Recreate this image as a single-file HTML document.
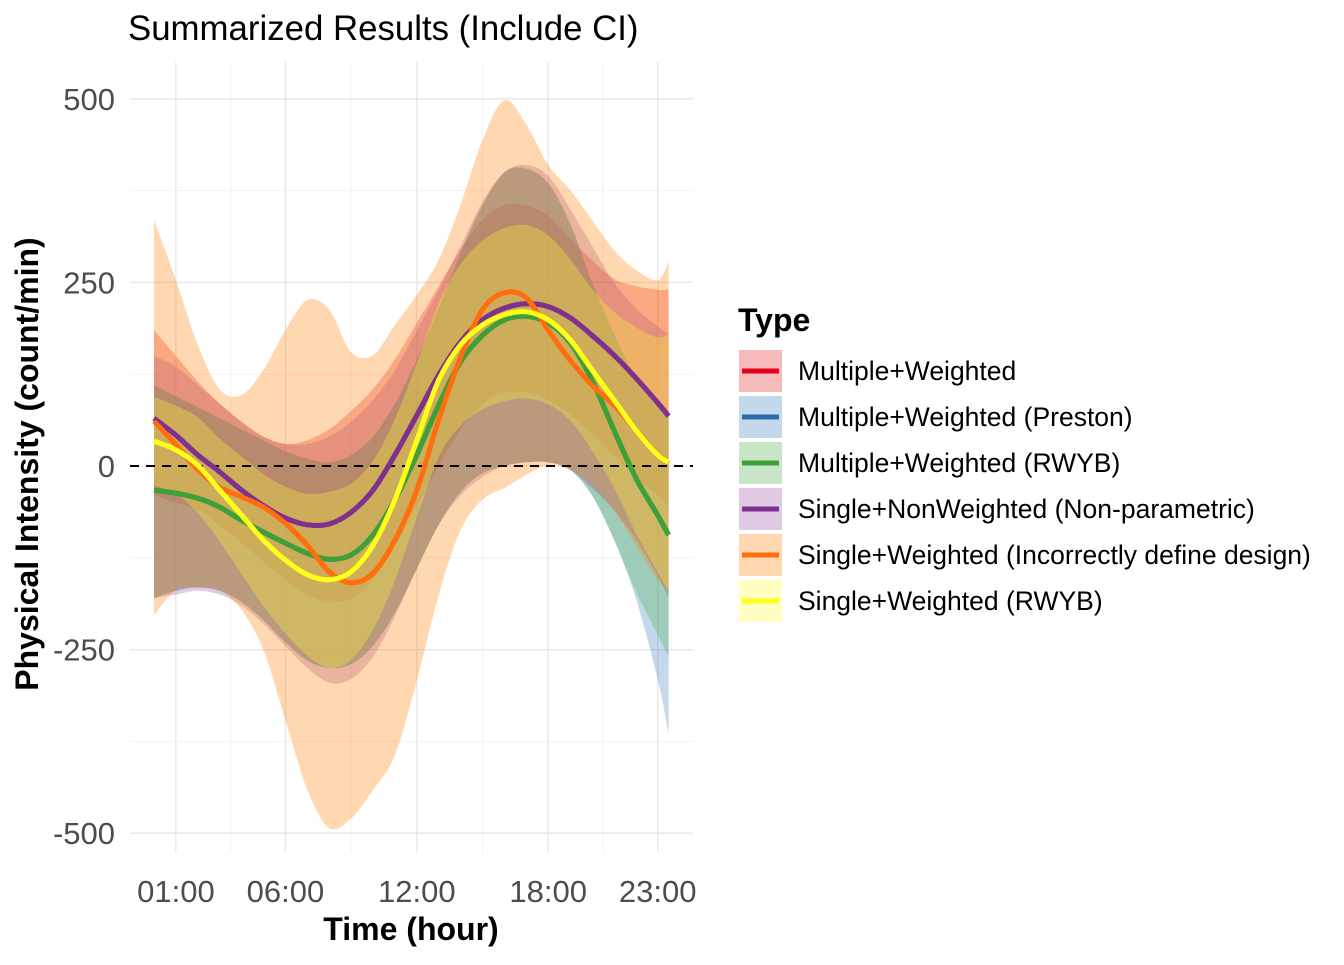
<!DOCTYPE html>
<html><head><meta charset="utf-8"><style>
html,body{margin:0;padding:0;background:#fff;}
svg text{font-family:"Liberation Sans",Arial,sans-serif;}
</style></head><body>
<svg id="chart" width="1344" height="960" xmlns="http://www.w3.org/2000/svg">
<rect x="0" y="0" width="1344" height="960" fill="#fff"/>
<text x="128" y="40" font-size="34.8" fill="#000">Summarized Results (Include CI)</text>
<g id="grid"></g>
<g id="bands"></g>
<line x1="130" x2="693" y1="466" y2="466" stroke="#000" stroke-width="2" stroke-dasharray="9,7" id="zeroline"/>
<g id="lines"></g>
<g id="axes"></g>
<text x="411" y="940" font-size="32" font-weight="bold" text-anchor="middle" fill="#000">Time (hour)</text>
<text transform="translate(38,464) rotate(-90)" font-size="32" font-weight="bold" text-anchor="middle" fill="#000">Physical Intensity (count/min)</text>
<g id="legend">
<text x="738" y="331" font-size="32" font-weight="bold" fill="#000">Type</text>
</g>
</svg>
<script>
const hours=[0,1,2,3,4,5,6,7,8,9,10,11,12,13,14,15,16,17,18,19,20,21,22,23,23.5];
const seriesNames=["Multiple+Weighted","Multiple+Weighted (Preston)","Multiple+Weighted (RWYB)","Single+NonWeighted (Non-parametric)","Single+Weighted (Incorrectly define design)","Single+Weighted (RWYB)"];
const lineColors=["#e4001c","#2c6aab","#3da136","#7d3191","#ff6d0d","#ffff1a"];
const fillColors=["#e41a1c","#377eb8","#4daf4a","#984ea3","#ff7f00","#ffff33"];
const redMean=[65,42,15,-8,-33,-54,-71,-80,-79,-63,-33,15,69,124,169,199,215,221,217,202,178,151,120,86,68];
const redLo=[-40,-50,-60,-80,-105,-130,-155,-175,-185,-180,-155,-110,-55,0,50,85,100,100,90,70,45,15,-15,-40,-55];
const redHi=[185,150,115,85,60,40,30,35,50,75,105,145,195,245,295,335,355,355,340,310,280,255,245,240,240];
const blueMean=[-33,-37,-44,-56,-74,-90,-105,-119,-127,-121,-94,-46,15,83,142,178,199,204,195,168,117,49,-16,-67,-94];
const blueLo=[-180,-170,-165,-170,-185,-210,-240,-265,-275,-270,-245,-200,-140,-80,-35,-10,0,5,5,-5,-40,-100,-180,-290,-365];
const blueHi=[110,95,80,65,50,35,20,10,5,15,40,85,145,215,290,355,400,405,385,330,250,180,120,90,75];
const greenMean=[-33,-37,-44,-56,-74,-90,-105,-119,-127,-121,-94,-46,15,83,142,178,199,204,195,168,117,49,-16,-67,-94];
const greenLo=[-180,-170,-165,-170,-185,-210,-240,-265,-275,-270,-245,-200,-140,-80,-35,-10,0,5,5,-5,-40,-100,-170,-230,-260];
const greenHi=[110,95,80,65,50,35,20,10,5,15,40,85,145,215,290,355,400,405,385,330,250,180,120,90,75];
const purpleMean=[65,42,15,-8,-33,-54,-71,-80,-79,-63,-33,15,69,124,169,199,215,221,217,202,178,151,120,86,68];
const purpleLo=[-180,-175,-170,-175,-190,-215,-245,-275,-295,-290,-260,-205,-140,-80,-40,-15,0,5,5,-5,-30,-60,-100,-150,-180];
const purpleHi=[150,135,110,85,60,40,30,30,40,60,90,130,185,240,300,360,400,410,395,350,300,250,215,190,180];
const orangeMean=[61,29,-5,-29,-42,-56,-78,-108,-144,-159,-146,-101,-33,63,148,213,236,229,185,144,110,83,49,15,4];
const orangeLo=[-203,-169,-166,-169,-196,-251,-346,-441,-493,-480,-441,-394,-292,-176,-87,-46,-30,-12,1,-5,-26,-60,-108,-155,-169];
const orangeHi=[335,253,165,104,97,131,185,226,213,155,151,192,233,281,356,444,498,465,410,376,335,294,267,253,278];
const yellowMean=[34,22,1,-33,-67,-101,-128,-148,-155,-144,-108,-46,35,117,165,192,206,210,199,172,131,90,49,15,5];
const yellowLo=[-26,-38,-64,-103,-147,-191,-228,-258,-275,-264,-223,-156,-70,12,55,77,88,92,84,62,21,-30,-91,-145,-170];
const yellowHi=[94,82,66,37,13,-11,-28,-38,-35,-24,7,64,140,222,275,307,324,328,314,282,241,210,189,175,180];
const yTicks=[500,250,0,-250,-500];
const yTickLabels=["500","250","0","-250","-500"];
const xTicks=[1,6,12,18,23];
const xTickLabels=["01:00","06:00","12:00","18:00","23:00"];

const means=[redMean,blueMean,greenMean,purpleMean,orangeMean,yellowMean];
const los=[redLo,blueLo,greenLo,purpleLo,orangeLo,yellowLo];
const his=[redHi,blueHi,greenHi,purpleHi,orangeHi,yellowHi];

const NS="http://www.w3.org/2000/svg";
function xs(h){return 154+h*21.9;}
function ys(v){return 466-v*183.6/250;}
function mk(tag,attrs,parent){const e=document.createElementNS(NS,tag);for(const k in attrs)e.setAttribute(k,attrs[k]);parent.appendChild(e);return e;}
function smooth(pts){
  let d="M"+pts[0][0].toFixed(1)+","+pts[0][1].toFixed(1);
  for(let i=0;i<pts.length-1;i++){
    const p0=pts[Math.max(0,i-1)],p1=pts[i],p2=pts[i+1],p3=pts[Math.min(pts.length-1,i+2)];
    const c1=[p1[0]+(p2[0]-p0[0])/6,p1[1]+(p2[1]-p0[1])/6];
    const c2=[p2[0]-(p3[0]-p1[0])/6,p2[1]-(p3[1]-p1[1])/6];
    d+="C"+c1[0].toFixed(1)+","+c1[1].toFixed(1)+" "+c2[0].toFixed(1)+","+c2[1].toFixed(1)+" "+p2[0].toFixed(1)+","+p2[1].toFixed(1);
  }
  return d;
}
const grid=document.getElementById('grid');
for(let i=0;i<yTicks.length-1;i++){
  const v=(yTicks[i]+yTicks[i+1])/2;
  const l=mk('line',{x1:130,x2:693,y1:ys(v),y2:ys(v),stroke:'#f2f2f2','stroke-width':1},grid);
  
  
}
for(let i=0;i<xTicks.length-1;i++){
  const h=(xTicks[i]+xTicks[i+1])/2;
  const l=mk('line',{x1:xs(h),x2:xs(h),y1:62,y2:852,stroke:'#f2f2f2','stroke-width':1},grid);
  
  
}
const axes=document.getElementById('axes');
yTicks.forEach((v,i)=>{
  const l=mk('line',{x1:130,x2:693,y1:ys(v),y2:ys(v),stroke:'#e6e6e6','stroke-width':1.3},grid);
  
  
  const t=mk('text',{x:115,y:ys(v)+11,'font-size':31,'text-anchor':'end',fill:'#4d4d4d'},axes);
  t.textContent=yTickLabels[i];
  
  
});
xTicks.forEach((h,i)=>{
  const l=mk('line',{x1:xs(h),x2:xs(h),y1:62,y2:852,stroke:'#e6e6e6','stroke-width':1.3},grid);
  
  
  const t=mk('text',{x:xs(h),y:902,'font-size':31,'text-anchor':'middle',fill:'#4d4d4d'},axes);
  t.textContent=xTickLabels[i];
  
  
});
const bands=document.getElementById('bands');
const linesG=document.getElementById('lines');
for(let s=0;s<6;s++){
  const up=hours.map((h,i)=>[xs(h),ys(his[s][i])]);
  const dn=hours.map((h,i)=>[xs(h),ys(los[s][i])]).reverse();
  const d=smooth(up)+"L"+dn[0][0].toFixed(1)+","+dn[0][1].toFixed(1)+smooth(dn).replace(/^M[^C]*/,"")+"Z";
  const p=mk('path',{d:d,fill:fillColors[s],'fill-opacity':0.3,stroke:'none'},bands);
  
  
}
for(let s=0;s<6;s++){
  const pts=hours.map((h,i)=>[xs(h),ys(means[s][i])]);
  const p=mk('path',{d:smooth(pts),fill:'none',stroke:lineColors[s],'stroke-width':5,'stroke-linejoin':'round'},linesG);
  
  
}
const lg=document.getElementById('legend');
seriesNames.forEach((n,i)=>{
  const y=350+i*46;
  const g=mk('g',{},lg);
  
  
  mk('rect',{x:739,y:y,width:43,height:42,fill:'#fff'},g);
  mk('rect',{x:739,y:y,width:43,height:42,fill:fillColors[i],'fill-opacity':0.3},g);
  mk('line',{x1:742,x2:779,y1:y+21,y2:y+21,stroke:lineColors[i],'stroke-width':5},g);
  const t=mk('text',{x:798,y:y+30,'font-size':26.5,fill:'#000'},g);
  t.textContent=n;
});
</script>
</body></html>
